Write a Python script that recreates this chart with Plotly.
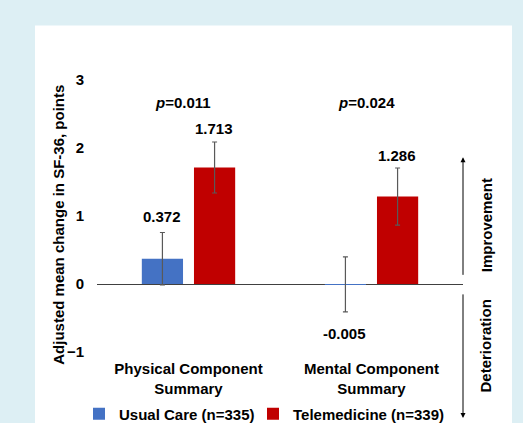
import plotly.graph_objects as go

categories = ["Physical Component<br>Summary", "Mental Component<br>Summary"]
usual_care = [0.372, -0.005]
usual_care_err = [0.385, 0.405]
telemedicine = [1.713, 1.286]
telemedicine_err = [0.375, 0.42]
p_values = ["<i>p</i>=0.011", "<i>p</i>=0.024"]
series_names = ["Usual Care (n=335)", "Telemedicine (n=339)"]
y_ticks = [-1, 0, 1, 2, 3]

FONT = "Liberation Sans, Arial, Helvetica, sans-serif"
BLUE = "#4472C4"
RED = "#C00000"
BG = "#DDEFF4"

# plot-area geometry (pixels) for paper-coordinate decorations
L, R, T, B = 97, 60, 79.5, 71
W, H = 523, 423
PW, PH = W - L - R, H - T - B


def px_x(x):
    return (x - L) / PW


def px_y(y):
    return (H - B - y) / PH


fig = go.Figure()
fig.add_trace(go.Bar(
    x=categories, y=usual_care, name=series_names[0], legend="legend",
    marker=dict(color=BLUE, line=dict(width=0)),
    error_y=dict(type="data", array=usual_care_err, color="#595959",
                 thickness=1.2, width=2.5),
))
fig.add_trace(go.Bar(
    x=categories, y=telemedicine, name=series_names[1], legend="legend2",
    marker=dict(color=RED, line=dict(width=0)),
    error_y=dict(type="data", array=telemedicine_err, color="#595959",
                 thickness=1.2, width=2.5),
))

annotations = []
bold = dict(family=FONT, size=15, color="black")
# value labels
offsets = [-26, 26]
label_shift = [[6, -11], [3, 2]]
for si, (vals, errs) in enumerate([(usual_care, usual_care_err), (telemedicine, telemedicine_err)]):
    for ci, cat in enumerate(categories):
        v, e = vals[ci], errs[ci]
        if v >= 0 or si == 1:
            yy, anchor, ys = v + e, "bottom", label_shift[si][ci]
        else:
            yy, anchor, ys = v - e, "top", label_shift[si][ci]
        annotations.append(dict(
            x=cat, y=yy, xref="x", yref="y", text="<b>%.3f</b>" % v,
            showarrow=False, xshift=offsets[si] - 1, xanchor="center",
            yanchor=anchor, yshift=ys, font=bold,
        ))
# p-values
p_x = [183, 366]
for ci in range(len(categories)):
    annotations.append(dict(
        x=px_x(p_x[ci]), y=px_y(101.7), xref="paper", yref="paper",
        text="<b>%s</b>" % p_values[ci], xanchor="center", yanchor="middle",
        showarrow=False, font=bold,
    ))
# y-axis title
annotations.append(dict(
    x=px_x(59), y=px_y(224.5), xref="paper", yref="paper",
    text="<b>Adjusted mean change in SF-36, points</b>", textangle=-90,
    xanchor="center", yanchor="middle", showarrow=False, font=bold,
))
# side labels
annotations.append(dict(
    x=px_x(486), y=px_y(225), xref="paper", yref="paper", text="<b>Improvement</b>",
    textangle=-90, xanchor="center", yanchor="middle", showarrow=False, font=bold,
))
annotations.append(dict(
    x=px_x(486), y=px_y(346.5), xref="paper", yref="paper", text="<b>Deterioration</b>",
    textangle=-90, xanchor="center", yanchor="middle", showarrow=False, font=bold,
))
# arrows
annotations.append(dict(
    x=px_x(463), y=px_y(157), xref="paper", yref="paper", text="",
    showarrow=True, ax=0, ay=119, arrowhead=2, arrowsize=1, arrowwidth=1, arrowcolor="black",
))
annotations.append(dict(
    x=px_x(463), y=px_y(418), xref="paper", yref="paper", text="",
    showarrow=True, ax=0, ay=-125, arrowhead=2, arrowsize=1, arrowwidth=1, arrowcolor="black",
))

shapes = [dict(
    type="rect", xref="paper", yref="paper", layer="below",
    x0=px_x(35), x1=px_x(512), y0=px_y(430), y1=px_y(25),
    fillcolor="white", line=dict(width=0),
)]

legend_style = dict(
    orientation="h", xref="container", yref="container",
    y=(H - 414) / H, xanchor="left", yanchor="middle",
    font=dict(family=FONT, size=15, color="black", weight="bold"),
    bgcolor="rgba(0,0,0,0)", itemwidth=30,
)

fig.update_layout(
    width=W, height=H,
    margin=dict(l=L, r=R, t=T, b=B, pad=0, autoexpand=False),
    paper_bgcolor=BG, plot_bgcolor="rgba(0,0,0,0)",
    barmode="group", bargap=0.43, bargroupgap=0.21,
    font=dict(family=FONT, size=15, color="black"),
    showlegend=True,
    legend=dict(legend_style, x=79 / W),
    legend2=dict(legend_style, x=253 / W),
    xaxis=dict(
        showgrid=False, showline=False, ticks="", automargin=False,
        tickfont=dict(family=FONT, size=15, color="black", weight="bold"),
        ticklabelstandoff=6,
    ),
    yaxis=dict(
        range=[-1, 3], tickvals=y_ticks, showgrid=False, showline=False, automargin=False,
        zeroline=True, zerolinecolor="#404040", zerolinewidth=1.3,
        tickfont=dict(family=FONT, size=15, color="black", weight="bold"),
        ticklabelstandoff=12,
    ),
    annotations=annotations,
    shapes=shapes,
)

fig.write_html(
    "out.html",
    config={"displayModeBar": False},
    post_script="document.body.style.margin='0';document.body.style.overflow='hidden';",
)
